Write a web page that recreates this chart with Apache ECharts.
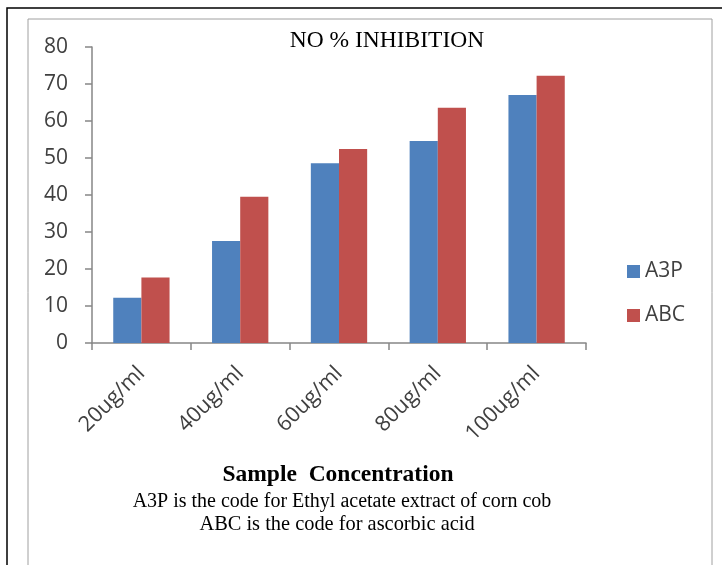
<!DOCTYPE html>
<html>
<head>
<meta charset="utf-8">
<script src="https://cdn.jsdelivr.net/npm/echarts@6/dist/echarts.min.js"></script>
<style>
  html, body { margin: 0; padding: 0; background: #fff; }
  #chart { width: 722px; height: 565px; }
</style>
</head>
<body>
<div id="chart"></div>
<script>
const categories = ['20ug/ml', '40ug/ml', '60ug/ml', '80ug/ml', '100ug/ml'];
const a3pValues = [12.2, 27.6, 48.6, 54.6, 67.0];
const abcValues = [17.7, 39.5, 52.4, 63.6, 72.2];
const seriesNames = ['A3P', 'ABC'];
const yTicks = { min: 0, max: 80, interval: 10 };

const chart = echarts.init(document.getElementById('chart'));
const axisGray = '#868686';
const labelColor = '#404040';

chart.setOption({
  backgroundColor: '#fff',
  animation: false,
  title: [
    { text: 'NO % INHIBITION', left: 382, top: 24, textAlign: 'center',
      textStyle: { fontFamily: 'Liberation Serif', fontWeight: 'normal', fontSize: 23.5, color: '#000' } },
    { text: 'Sample  Concentration', left: 333, top: 458, textAlign: 'center',
      textStyle: { fontFamily: 'Liberation Serif', fontWeight: 'bold', fontSize: 23.5, color: '#000' } },
    { text: 'A3P is the code for Ethyl acetate extract of corn cob', left: 337, top: 487, textAlign: 'center',
      textStyle: { fontFamily: 'Liberation Serif', fontWeight: 'normal', fontSize: 20, color: '#000' } },
    { text: 'ABC is the code for ascorbic acid', left: 332, top: 510, textAlign: 'center',
      textStyle: { fontFamily: 'Liberation Serif', fontWeight: 'normal', fontSize: 20.4, color: '#000' } }
  ],
  graphic: [
    { type: 'rect', shape: { x: 7, y: 8, width: 760, height: 600 },
      style: { fill: 'none', stroke: '#000', lineWidth: 1.5 }, silent: true },
    { type: 'rect', shape: { x: 28, y: 19, width: 684, height: 600 },
      style: { fill: 'none', stroke: '#a0a0a0', lineWidth: 1 }, silent: true }
  ],
  legend: {
    orient: 'vertical',
    left: 622,
    top: 256,
    itemWidth: 13,
    itemHeight: 13,
    itemGap: 23,
    icon: 'rect',
    textStyle: { fontFamily: 'Open Sans', fontSize: 21, color: labelColor },
    data: seriesNames
  },
  grid: { left: 92, right: 136, top: 47, bottom: 222 },
  xAxis: {
    type: 'category',
    data: categories,
    axisLine: { lineStyle: { color: axisGray, width: 1.5 } },
    axisTick: { show: true, length: 7, lineStyle: { color: axisGray, width: 1.5 } },
    axisLabel: { rotate: 45, fontFamily: 'Open Sans', fontSize: 21.5,
      color: labelColor, margin: 27, interval: 0 }
  },
  yAxis: {
    type: 'value',
    min: yTicks.min,
    max: yTicks.max,
    interval: yTicks.interval,
    splitLine: { show: false },
    axisLine: { show: true, lineStyle: { color: axisGray, width: 1.5 } },
    axisTick: { show: true, length: 7, lineStyle: { color: axisGray, width: 1.5 } },
    axisLabel: { fontFamily: 'Open Sans', fontSize: 21, color: labelColor, margin: 24 }
  },
  series: [
    { name: seriesNames[0], type: 'bar', data: a3pValues, barGap: '0%', barCategoryGap: '43%',
      itemStyle: { color: '#4F81BD' } },
    { name: seriesNames[1], type: 'bar', data: abcValues, barGap: '0%', barCategoryGap: '43%',
      itemStyle: { color: '#C0504D' } }
  ]
});
</script>
</body>
</html>
